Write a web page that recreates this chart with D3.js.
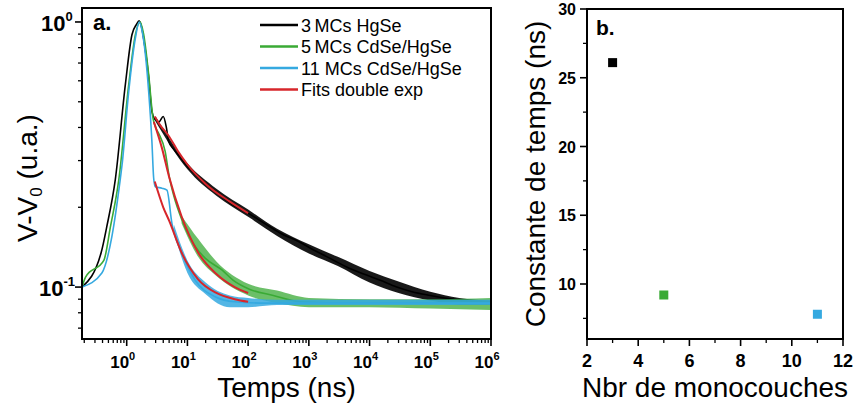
<!DOCTYPE html>
<html><head><meta charset="utf-8">
<script src="https://cdn.jsdelivr.net/npm/d3@7/dist/d3.min.js"></script>
<style>
body{margin:0;background:#fff}
svg{display:block;font-family:"Liberation Sans",Arial,Helvetica,sans-serif}
</style>
</head><body>
<svg id="chart" width="854" height="406"></svg>
<script>
// ---------- DATA ----------
const legendLabels = ["3\u2009MCs HgSe", "5\u2009MCs CdSe/HgSe", "11 MCs CdSe/HgSe", "Fits double exp"];
const seriesColors = ["#000000", "#3aaa35", "#35a9e0", "#d7262b"];

// Transients [time (ns), V-V0 (a.u.)]
const hgse3 = [[0.184,0.1],[0.38,0.135],[0.47,0.169],[0.65,0.255],[0.95,0.58],[1.22,0.895],[1.45,0.98],[1.6,1.01],[1.75,0.96],[2.0,0.8],[2.3,0.62],[2.6,0.46],[2.9,0.43],[3.4,0.42],[4.0,0.44],[4.5,0.40],[4.9,0.355],[6,0.33],[8,0.305],[10,0.285],[15,0.262],[20,0.245],[30,0.228],[50,0.208],[100,0.19],[200,0.172],[335,0.16],[700,0.148],[1200,0.138],[2000,0.13],[4200,0.119],[8000,0.112],[15000,0.106],[28000,0.1],[50000,0.096],[100000,0.093],[240000,0.09],[500000,0.088],[1000000,0.087]];
const cdse5 = [[0.184,0.1],[0.21,0.109],[0.42,0.126],[0.54,0.169],[0.74,0.253],[1.08,0.58],[1.39,0.895],[1.66,1.0],[1.9,0.9],[2.3,0.633],[2.71,0.434],[3.0,0.40],[3.36,0.38],[4.3,0.325],[5.0,0.262],[6,0.22],[8.15,0.179],[13.5,0.142],[20,0.128],[37,0.116],[57,0.106],[107,0.098],[260,0.093],[710,0.088],[5000,0.087],[100000,0.087],[1000000,0.087]];
const cdse11 = [[0.184,0.1],[0.39,0.113],[0.57,0.155],[0.78,0.253],[0.84,0.29],[1.08,0.547],[1.39,0.87],[1.61,1.0],[1.8,0.92],[2.3,0.547],[2.6,0.355],[2.78,0.258],[2.96,0.239],[3.8,0.236],[4.6,0.232],[5.56,0.174],[8.15,0.134],[13.5,0.106],[28.7,0.092],[60,0.088],[200,0.087],[5000,0.087],[100000,0.087],[1000000,0.087]];

// Noise envelopes [time, low, high]
const hgse3Noise = [[3,0.42,0.44],[10,0.278,0.293],[30,0.221,0.235],[100,0.184,0.196],[300,0.156,0.166],[1000,0.134,0.145],[3000,0.12,0.13],[10000,0.104,0.115],[30000,0.095,0.105],[100000,0.089,0.096],[300000,0.086,0.091],[1000000,0.086,0.089]];
const cdse5Noise = [[8,0.174,0.186],[15,0.13,0.152],[30,0.11,0.125],[100,0.093,0.103],[300,0.087,0.097],[1000,0.084,0.091],[10000,0.084,0.09],[100000,0.083,0.09],[1000000,0.082,0.091]];
const cdse11Noise = [[6,0.16,0.172],[10,0.113,0.126],[20,0.094,0.104],[50,0.084,0.093],[100,0.084,0.091],[300,0.0855,0.0895],[1000000,0.0855,0.0895]];

// Double-exponential fits
const fit3 = [[2.9,0.44],[3.5,0.41],[5,0.37],[7,0.325],[10,0.29],[20,0.245],[50,0.21],[100,0.19]];
const fit5 = [[2.8,0.42],[3.8,0.335],[5,0.26],[8,0.185],[15,0.135],[30,0.112],[60,0.1],[100,0.095]];
const fit11 = [[2.9,0.25],[4,0.2],[5,0.178],[8,0.135],[15,0.107],[30,0.095],[60,0.09],[100,0.088]];

// Panel b
const monolayers = [3, 5, 11];
const timeConstants = [26.1, 9.2, 7.8];
const pointColors = ["#000000", "#3aaa35", "#35a9e0"];

// Ticks
const xExpLeft = [0, 1, 2, 3, 4, 5, 6];
const yTicksLeft = [1, 0.1];
const yExpLeft = ["0", "-1"];
const xTicksRight = [2, 4, 6, 8, 10, 12];
const xMinorRight = [3, 5, 7, 9, 11];
const yTicksRight = [10, 15, 20, 25, 30];
const yMinorRight = [7.5, 12.5, 17.5, 22.5, 27.5];

// ---------- DRAW ----------
const svg = d3.select("#chart");

// Panel a scales
const xL = d3.scaleLog().domain([0.1836, 1e6]).range([82, 491]);
const yL = d3.scaleLog().domain([0.0637, 1.129]).range([339, 8]);

const gA = svg.append("g");
const line = d3.line().x(d => xL(d[0])).y(d => yL(d[1])).curve(d3.curveMonotoneX);
const band = d3.area().x(d => xL(d[0])).y0(d => yL(d[1])).y1(d => yL(d[2])).curve(d3.curveMonotoneX);

svg.append("clipPath").attr("id", "clipA").append("rect")
  .attr("x", 82).attr("y", 8).attr("width", 409).attr("height", 331);
const plotA = gA.append("g").attr("clip-path", "url(#clipA)");

const bandOpacity = [0.9, 0.75, 0.85];
const dataSeries = [[hgse3, hgse3Noise, 0], [cdse5, cdse5Noise, 1], [cdse11, cdse11Noise, 2]];
dataSeries.forEach(([d, n, i]) => {
  plotA.append("path").attr("d", band(n)).attr("fill", seriesColors[i]).attr("opacity", bandOpacity[i]);
  plotA.append("path").attr("d", line(d)).attr("fill", "none").attr("stroke", seriesColors[i]).attr("stroke-width", 1.6);
});
[fit3, fit5, fit11].forEach(f => {
  plotA.append("path").attr("d", line(f)).attr("fill", "none").attr("stroke", seriesColors[3]).attr("stroke-width", 2);
});

// frame a
gA.append("rect").attr("x", 82).attr("y", 8).attr("width", 409).attr("height", 331)
  .attr("fill", "none").attr("stroke", "#000").attr("stroke-width", 2);

// x axis ticks (log)
const xMinorL = [];
for (let e = -1; e <= 5; e++) for (let m = 2; m <= 9; m++) { const v = m * Math.pow(10, e); if (v > 0.1836 && v < 1e6) xMinorL.push(v); }
gA.selectAll(".xminL").data(xMinorL).join("line")
  .attr("x1", d => xL(d)).attr("x2", d => xL(d)).attr("y1", 339).attr("y2", 343)
  .attr("stroke", "#000").attr("stroke-width", 1.3);
gA.selectAll(".xmajL").data(xExpLeft).join("line")
  .attr("x1", d => xL(Math.pow(10, d))).attr("x2", d => xL(Math.pow(10, d))).attr("y1", 339).attr("y2", 346)
  .attr("stroke", "#000").attr("stroke-width", 1.6);
const xlab = gA.selectAll(".xlabL").data(xExpLeft).join("text")
  .attr("x", d => xL(Math.pow(10, d)) - 4).attr("y", 368)
  .attr("text-anchor", "middle").attr("font-weight", "bold").attr("font-size", 17);
xlab.append("tspan").text("10");
xlab.append("tspan").attr("dy", -8).attr("font-size", 11).text(d => d);

// y axis ticks (log)
const yMinorL = [0.07, 0.08, 0.09, 0.2, 0.3, 0.4, 0.5, 0.6, 0.7, 0.8, 0.9];
gA.selectAll(".yminL").data(yMinorL).join("line")
  .attr("x1", 78).attr("x2", 82).attr("y1", d => yL(d)).attr("y2", d => yL(d))
  .attr("stroke", "#000").attr("stroke-width", 1.3);
gA.selectAll(".ymajL").data(yTicksLeft).join("line")
  .attr("x1", 75).attr("x2", 82).attr("y1", d => yL(d)).attr("y2", d => yL(d))
  .attr("stroke", "#000").attr("stroke-width", 1.6);
const ylab = gA.selectAll(".ylabL").data(yTicksLeft).join("text")
  .attr("x", (d, i) => i === 0 ? 41 : 39).attr("y", d => yL(d) + 9)
  .attr("font-weight", "bold").attr("font-size", 22);
ylab.append("tspan").text("10");
ylab.append("tspan").attr("dy", -10).attr("font-size", 13).text((d, i) => yExpLeft[i]);

// titles a
gA.append("text").attr("x", 286.5).attr("y", 397).attr("text-anchor", "middle")
  .attr("font-size", 28).text("Temps (ns)");
const yt = gA.append("text").attr("transform", "translate(37,178) rotate(-90)")
  .attr("text-anchor", "middle").attr("font-size", 28);
yt.append("tspan").text("V-V");
yt.append("tspan").attr("font-size", 17).attr("dy", 5).text("0");
yt.append("tspan").attr("dy", -5).text(" (u.a.)");
gA.append("text").attr("x", 93).attr("y", 30).attr("font-weight", "bold").attr("font-size", 22).text("a.");

// legend
const legY = [25, 46.5, 68, 89.5];
const leg = gA.selectAll(".leg").data(legendLabels).join("g")
  .attr("transform", (d, i) => `translate(0,${legY[i]})`);
leg.append("line").attr("x1", 260).attr("x2", 298).attr("y1", 0).attr("y2", 0)
  .attr("stroke", (d, i) => seriesColors[i]).attr("stroke-width", 2.5);
leg.append("text").attr("x", 301).attr("y", 6.5).attr("font-size", 18).text(d => d);

// Panel b
const xR = d3.scaleLinear().domain([2, 12]).range([587, 843]);
const yR = d3.scaleLinear().domain([6, 30]).range([339, 9]);
const gB = svg.append("g");
gB.append("rect").attr("x", 587).attr("y", 9).attr("width", 256).attr("height", 330)
  .attr("fill", "none").attr("stroke", "#000").attr("stroke-width", 2);

gB.selectAll(".xmajR").data(xTicksRight).join("line")
  .attr("x1", d => xR(d)).attr("x2", d => xR(d)).attr("y1", 339).attr("y2", 346)
  .attr("stroke", "#000").attr("stroke-width", 1.6);
gB.selectAll(".xminR").data(xMinorRight).join("line")
  .attr("x1", d => xR(d)).attr("x2", d => xR(d)).attr("y1", 339).attr("y2", 343)
  .attr("stroke", "#000").attr("stroke-width", 1.3);
gB.selectAll(".xlabR").data(xTicksRight).join("text")
  .attr("x", d => xR(d)).attr("y", 367).attr("text-anchor", "middle")
  .attr("font-weight", "bold").attr("font-size", 18).text(d => d);

gB.selectAll(".ymajR").data(yTicksRight).join("line")
  .attr("x1", 580).attr("x2", 587).attr("y1", d => yR(d)).attr("y2", d => yR(d))
  .attr("stroke", "#000").attr("stroke-width", 1.6);
gB.selectAll(".yminR").data(yMinorRight).join("line")
  .attr("x1", 583).attr("x2", 587).attr("y1", d => yR(d)).attr("y2", d => yR(d))
  .attr("stroke", "#000").attr("stroke-width", 1.3);
gB.selectAll(".ylabR").data(yTicksRight).join("text")
  .attr("x", 576).attr("y", d => yR(d) + 6).attr("text-anchor", "end")
  .attr("font-weight", "bold").attr("font-size", 16).text(d => d);

gB.selectAll(".pt").data(monolayers).join("rect")
  .attr("x", d => xR(d) - 4.5).attr("y", (d, i) => yR(timeConstants[i]) - 4.5)
  .attr("width", 9).attr("height", 9).attr("fill", (d, i) => pointColors[i]);

gB.append("text").attr("x", 715).attr("y", 397).attr("text-anchor", "middle")
  .attr("font-size", 28).text("Nbr de monocouches");
gB.append("text").attr("transform", "translate(545,174) rotate(-90)").attr("text-anchor", "middle")
  .attr("font-size", 28).text("Constante de temps (ns)");
gB.append("text").attr("x", 596).attr("y", 35).attr("font-weight", "bold").attr("font-size", 21).text("b.");
</script>
</body></html>
